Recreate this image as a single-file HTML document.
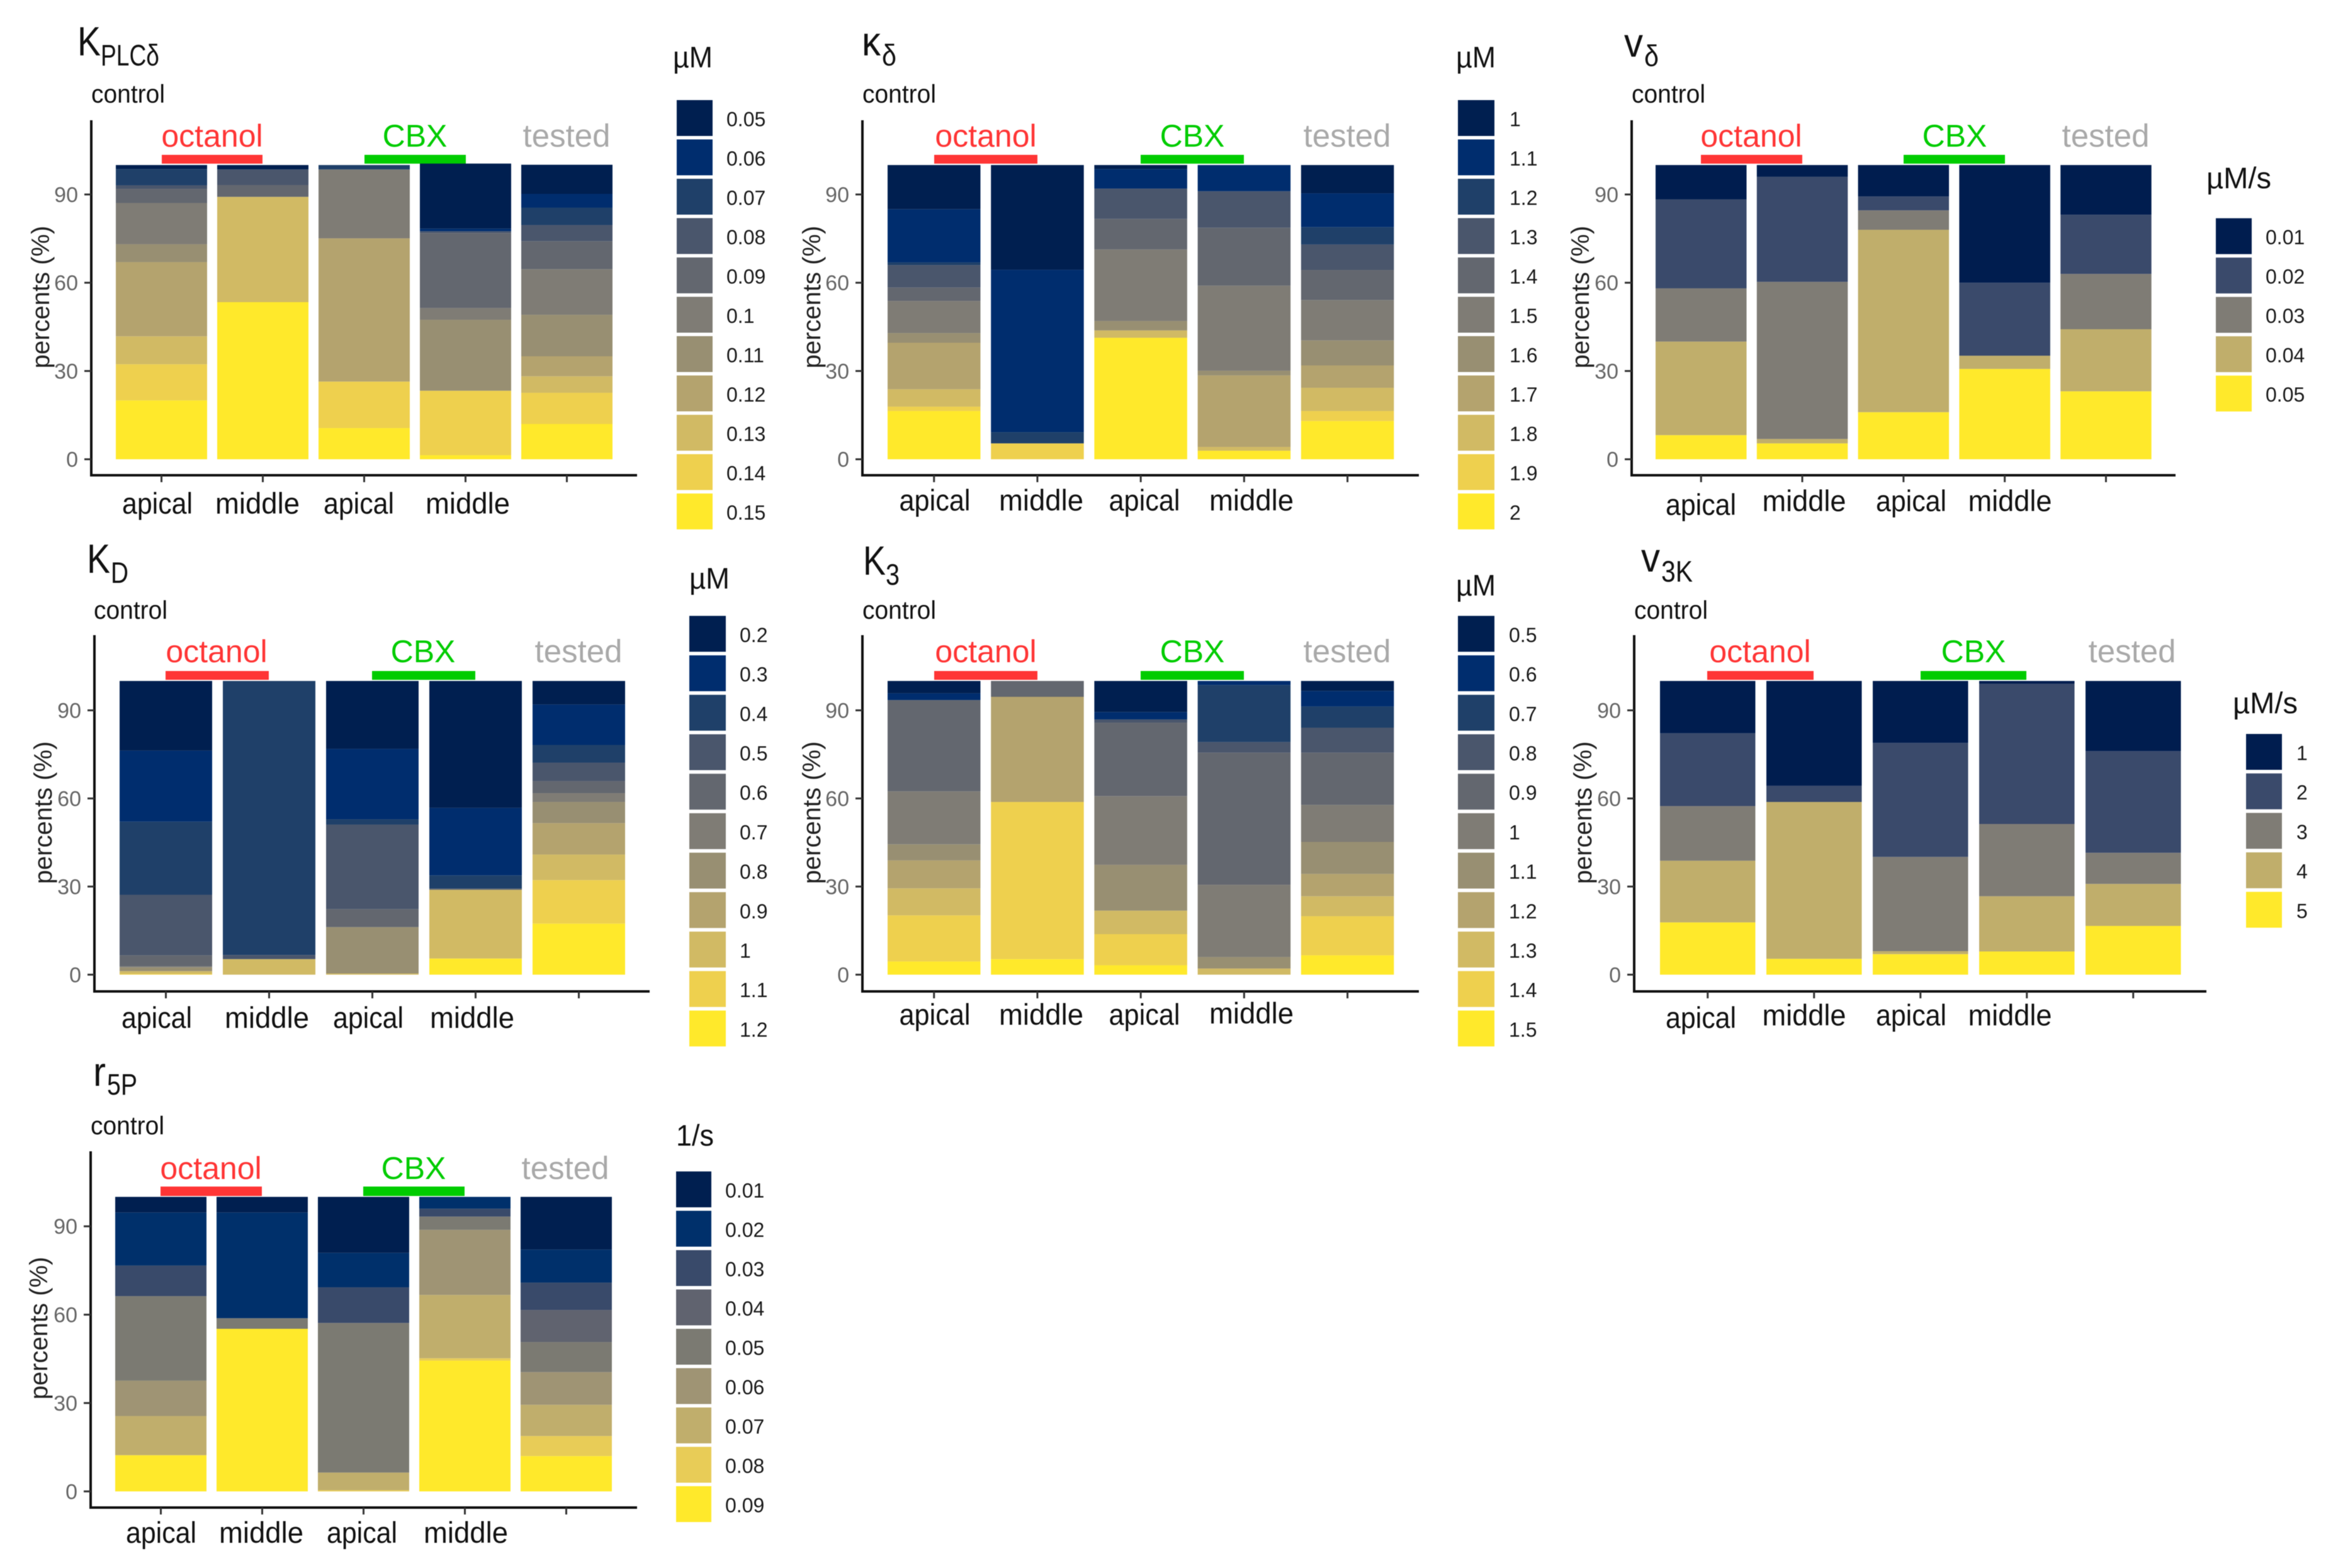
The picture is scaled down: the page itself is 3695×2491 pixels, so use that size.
<!DOCTYPE html>
<html lang="en">
<head>
<meta charset="utf-8">
<title>Parameter distributions by condition</title>
<style>
html,body{margin:0;padding:0;background:#fff;width:3695px;height:2491px;overflow:hidden}
svg{display:block;filter:blur(0.6px)}
text{font-family:"Liberation Sans",sans-serif;fill:#111}
.main{font-size:65px}
.sub{font-size:47px}
.control{font-size:41px}
.oct{font-size:50px;fill:#ff3535;text-anchor:middle}
.cbx{font-size:50px;fill:#00cc00;text-anchor:middle}
.tst{font-size:51px;fill:#a9a9a9;text-anchor:middle}
.ytitle{font-size:40px;text-anchor:middle;fill:#222}
.xl{font-size:47px;text-anchor:middle}
.unit{font-size:47px}
.tick{font-size:34px;fill:#666;text-anchor:end}
.leg{font-size:32px;fill:#1a1a1a}
</style>
</head>
<body>
<svg id="figure" xmlns="http://www.w3.org/2000/svg" width="3695" height="2491" viewBox="0 0 3695 2491">

<g id="kplc">
  <text class="main" x="123" y="88" textLength="37" lengthAdjust="spacingAndGlyphs">K</text>
  <text class="sub" x="160" y="104" textLength="93" lengthAdjust="spacingAndGlyphs">PLCδ</text>
  <text class="control" x="145" y="163" textLength="117" lengthAdjust="spacingAndGlyphs">control</text>
  <text class="oct" x="337" y="233">octanol</text>
  <rect x="257" y="246" width="160" height="14" fill="#ff3535"/>
  <text class="cbx" x="659" y="233">CBX</text>
  <rect x="579" y="246" width="161" height="14" fill="#00cc00"/>
  <text class="tst" x="900" y="233">tested</text>
  <text class="ytitle" x="65" y="472" dy="13" transform="rotate(-90 65 472)">percents (%)</text>
  <text class="xl" x="250" y="816" textLength="112" lengthAdjust="spacingAndGlyphs">apical</text>
  <text class="xl" x="409" y="816" textLength="134" lengthAdjust="spacingAndGlyphs">middle</text>
  <text class="xl" x="570" y="816" textLength="112" lengthAdjust="spacingAndGlyphs">apical</text>
  <text class="xl" x="743" y="816" textLength="134" lengthAdjust="spacingAndGlyphs">middle</text>
  <text class="unit" x="1069" y="107" textLength="63" lengthAdjust="spacingAndGlyphs">µM</text>
</g>

<g id="kdelta">
  <text class="main" x="1369" y="88" textLength="30" lengthAdjust="spacingAndGlyphs">κ</text>
  <text class="sub" x="1401" y="104" textLength="23" lengthAdjust="spacingAndGlyphs">δ</text>
  <text class="control" x="1370" y="163" textLength="117" lengthAdjust="spacingAndGlyphs">control</text>
  <text class="oct" x="1566" y="233">octanol</text>
  <rect x="1484" y="246" width="164" height="14" fill="#ff3535"/>
  <text class="cbx" x="1894" y="233">CBX</text>
  <rect x="1812" y="246" width="164" height="14" fill="#00cc00"/>
  <text class="tst" x="2140" y="233">tested</text>
  <text class="ytitle" x="1290" y="472" dy="13" transform="rotate(-90 1290 472)">percents (%)</text>
  <text class="xl" x="1485" y="811" textLength="113" lengthAdjust="spacingAndGlyphs">apical</text>
  <text class="xl" x="1654" y="811" textLength="134" lengthAdjust="spacingAndGlyphs">middle</text>
  <text class="xl" x="1818" y="811" textLength="113" lengthAdjust="spacingAndGlyphs">apical</text>
  <text class="xl" x="1988" y="811" textLength="134" lengthAdjust="spacingAndGlyphs">middle</text>
  <text class="unit" x="2313" y="107" textLength="63" lengthAdjust="spacingAndGlyphs">µM</text>
</g>

<g id="vdelta">
  <text class="main" x="2580" y="90" textLength="30" lengthAdjust="spacingAndGlyphs">v</text>
  <text class="sub" x="2612" y="105" textLength="23" lengthAdjust="spacingAndGlyphs">δ</text>
  <text class="control" x="2592" y="163" textLength="117" lengthAdjust="spacingAndGlyphs">control</text>
  <text class="oct" x="2782" y="233">octanol</text>
  <rect x="2702" y="246" width="161" height="14" fill="#ff3535"/>
  <text class="cbx" x="3105" y="233">CBX</text>
  <rect x="3024" y="246" width="161" height="14" fill="#00cc00"/>
  <text class="tst" x="3345" y="233">tested</text>
  <text class="ytitle" x="2511" y="472" dy="13" transform="rotate(-90 2511 472)">percents (%)</text>
  <text class="xl" x="2702" y="818" textLength="112" lengthAdjust="spacingAndGlyphs">apical</text>
  <text class="xl" x="2866" y="812" textLength="133" lengthAdjust="spacingAndGlyphs">middle</text>
  <text class="xl" x="3036" y="812" textLength="112" lengthAdjust="spacingAndGlyphs">apical</text>
  <text class="xl" x="3193" y="812" textLength="133" lengthAdjust="spacingAndGlyphs">middle</text>
  <text class="unit" x="3505" y="299" textLength="103" lengthAdjust="spacingAndGlyphs">µM/s</text>
</g>

<g id="kd">
  <text class="main" x="138" y="910" textLength="37" lengthAdjust="spacingAndGlyphs">K</text>
  <text class="sub" x="176" y="926" textLength="28" lengthAdjust="spacingAndGlyphs">D</text>
  <text class="control" x="149" y="983" textLength="117" lengthAdjust="spacingAndGlyphs">control</text>
  <text class="oct" x="344" y="1052">octanol</text>
  <rect x="263" y="1066" width="164" height="14" fill="#ff3535"/>
  <text class="cbx" x="672" y="1052">CBX</text>
  <rect x="591" y="1066" width="164" height="14" fill="#00cc00"/>
  <text class="tst" x="919" y="1052">tested</text>
  <text class="ytitle" x="69" y="1291" dy="13" transform="rotate(-90 69 1291)">percents (%)</text>
  <text class="xl" x="249" y="1633" textLength="112" lengthAdjust="spacingAndGlyphs">apical</text>
  <text class="xl" x="424" y="1633" textLength="134" lengthAdjust="spacingAndGlyphs">middle</text>
  <text class="xl" x="585" y="1633" textLength="112" lengthAdjust="spacingAndGlyphs">apical</text>
  <text class="xl" x="750" y="1633" textLength="134" lengthAdjust="spacingAndGlyphs">middle</text>
  <text class="unit" x="1095" y="935" textLength="64" lengthAdjust="spacingAndGlyphs">µM</text>
</g>

<g id="k3">
  <text class="main" x="1371" y="913" textLength="36" lengthAdjust="spacingAndGlyphs">K</text>
  <text class="sub" x="1407" y="929" textLength="22" lengthAdjust="spacingAndGlyphs">3</text>
  <text class="control" x="1370" y="983" textLength="117" lengthAdjust="spacingAndGlyphs">control</text>
  <text class="oct" x="1566" y="1052">octanol</text>
  <rect x="1484" y="1066" width="164" height="14" fill="#ff3535"/>
  <text class="cbx" x="1894" y="1052">CBX</text>
  <rect x="1812" y="1066" width="164" height="14" fill="#00cc00"/>
  <text class="tst" x="2140" y="1052">tested</text>
  <text class="ytitle" x="1290" y="1291" dy="13" transform="rotate(-90 1290 1291)">percents (%)</text>
  <text class="xl" x="1485" y="1628" textLength="113" lengthAdjust="spacingAndGlyphs">apical</text>
  <text class="xl" x="1654" y="1628" textLength="134" lengthAdjust="spacingAndGlyphs">middle</text>
  <text class="xl" x="1818" y="1628" textLength="113" lengthAdjust="spacingAndGlyphs">apical</text>
  <text class="xl" x="1988" y="1626" textLength="134" lengthAdjust="spacingAndGlyphs">middle</text>
  <text class="unit" x="2313" y="946" textLength="63" lengthAdjust="spacingAndGlyphs">µM</text>
</g>

<g id="v3k">
  <text class="main" x="2607" y="908" textLength="30" lengthAdjust="spacingAndGlyphs">v</text>
  <text class="sub" x="2639" y="924" textLength="50" lengthAdjust="spacingAndGlyphs">3K</text>
  <text class="control" x="2596" y="983" textLength="117" lengthAdjust="spacingAndGlyphs">control</text>
  <text class="oct" x="2796" y="1052">octanol</text>
  <rect x="2712" y="1066" width="169" height="14" fill="#ff3535"/>
  <text class="cbx" x="3135" y="1052">CBX</text>
  <rect x="3051" y="1066" width="168" height="14" fill="#00cc00"/>
  <text class="tst" x="3387" y="1052">tested</text>
  <text class="ytitle" x="2515" y="1291" dy="13" transform="rotate(-90 2515 1291)">percents (%)</text>
  <text class="xl" x="2702" y="1633" textLength="112" lengthAdjust="spacingAndGlyphs">apical</text>
  <text class="xl" x="2866" y="1629" textLength="133" lengthAdjust="spacingAndGlyphs">middle</text>
  <text class="xl" x="3036" y="1629" textLength="112" lengthAdjust="spacingAndGlyphs">apical</text>
  <text class="xl" x="3193" y="1629" textLength="133" lengthAdjust="spacingAndGlyphs">middle</text>
  <text class="unit" x="3547" y="1133" textLength="103" lengthAdjust="spacingAndGlyphs">µM/s</text>
</g>

<g id="r5p">
  <text class="main" x="148" y="1725" textLength="20" lengthAdjust="spacingAndGlyphs">r</text>
  <text class="sub" x="170" y="1739" textLength="48" lengthAdjust="spacingAndGlyphs">5P</text>
  <text class="control" x="144" y="1802" textLength="117" lengthAdjust="spacingAndGlyphs">control</text>
  <text class="oct" x="335" y="1873">octanol</text>
  <rect x="255" y="1885" width="161" height="15" fill="#ff3535"/>
  <text class="cbx" x="657" y="1873">CBX</text>
  <rect x="577" y="1885" width="161" height="15" fill="#00cc00"/>
  <text class="tst" x="898" y="1873">tested</text>
  <text class="ytitle" x="62" y="2110" dy="13" transform="rotate(-90 62 2110)">percents (%)</text>
  <text class="xl" x="256" y="2451" textLength="112" lengthAdjust="spacingAndGlyphs">apical</text>
  <text class="xl" x="415" y="2451" textLength="134" lengthAdjust="spacingAndGlyphs">middle</text>
  <text class="xl" x="575" y="2451" textLength="112" lengthAdjust="spacingAndGlyphs">apical</text>
  <text class="xl" x="740" y="2451" textLength="134" lengthAdjust="spacingAndGlyphs">middle</text>
  <text class="unit" x="1074" y="1820" textLength="60" lengthAdjust="spacingAndGlyphs">1/s</text>
</g>
</svg>

<script>
// ---------- shared axis values ----------
const yTickValues = [0, 30, 60, 90];
const barGroups = ['octanol-apical', 'octanol-middle', 'cbx-apical', 'cbx-middle', 'tested'];

// ---------- legend labels (top to bottom) ----------
const kplcLevels = ['0.05','0.06','0.07','0.08','0.09','0.1','0.11','0.12','0.13','0.14','0.15'];
const kdeltaLevels = ['1','1.1','1.2','1.3','1.4','1.5','1.6','1.7','1.8','1.9','2'];
const vdeltaLevels = ['0.01','0.02','0.03','0.04','0.05'];
const kdLevels = ['0.2','0.3','0.4','0.5','0.6','0.7','0.8','0.9','1','1.1','1.2'];
const k3Levels = ['0.5','0.6','0.7','0.8','0.9','1','1.1','1.2','1.3','1.4','1.5'];
const v3kLevels = ['1','2','3','4','5'];
const r5pLevels = ['0.01','0.02','0.03','0.04','0.05','0.06','0.07','0.08','0.09'];

// ---------- percent of each legend level per bar ----------
const kplcValues = [
  [1.4,0,5.5,1.2,4.8,14,6.1,25.2,9.5,12.3,20],
  [1.5,0,0,5.3,4,0,0,0,35.8,0,53.4],
  [0,0,1.5,0,0,23.4,0,48.7,0,15.8,10.6],
  [22.1,.9,0,.6,25.5,4,24.1,0,0,21.9,1.4],
  [9.9,4.7,5.9,5.5,9.5,15.5,14.1,6.8,5.6,10.6,12]
];
const kdeltaValues = [
  [15,18.1,.9,7.6,4.6,10.9,3.3,15.8,5.9,1.5,16.4],
  [35.6,55.2,3.8,0,0,0,0,0,0,5.4,0],
  [1.4,6.6,0,10.3,10.4,24.3,3.2,0,2.5,0,41.3],
  [0,8.9,0,12.4,19.7,28.9,1.6,24.3,1.3,0,2.9],
  [9.6,11.5,5.9,8.7,10.2,13.7,8.5,7.6,7.9,3.4,13]
];
const vdeltaValues = [
  [11.7,30.2,18.1,31.8,8.2],
  [4,35.7,53.4,1.5,5.4],
  [10.7,4.7,6.6,62,16],
  [40,24.8,0,4.5,30.7],
  [16.9,20.1,18.8,21.1,23.1]
];
const kdValues = [
  [23.7,24.2,24.9,20.6,3.8,.3,1.3,0,.9,.3,0],
  [0,0,93.3,1.4,0,0,0,0,5.3,0,0],
  [23.1,24,1.8,28.8,6.1,0,15.8,0,.4,0,0],
  [43.2,23,4.5,0,.4,0,0,0,23.4,0,5.5],
  [8,13.8,6,6.3,4.1,3,7.2,10.7,8.7,14.8,17.4]
];
const k3Values = [
  [4.2,2.3,0,0,31.1,18,5.5,9.5,9.2,15.7,4.5],
  [0,0,0,0,5.4,0,0,35.8,0,53.5,5.3],
  [10.6,2.5,0,1.1,25,23.4,15.6,0,8,10.6,3.2],
  [0,1.4,19.4,3.6,45,24.6,3.9,0,2.1,0,0],
  [3.4,5.3,7.2,8.5,17.8,12.6,10.9,7.6,6.8,13.3,6.6]
];
const v3kValues = [
  [17.8,24.8,18.6,21,17.8],
  [35.7,5.5,0,53.4,5.4],
  [21.1,38.8,32.1,1,7],
  [.9,47.8,24.6,18.8,7.9],
  [23.9,34.6,10.6,14.3,16.6]
];
const r5pValues = [
  [5.3,18,10.4,0,28.7,12,13.3,0,12.3],
  [5.3,35.9,0,0,3.6,0,0,0,55.2],
  [19,11.7,12.1,0,50.8,0,6,.4,0],
  [0,4,2.7,0,4.5,22.1,21.5,.8,44.4],
  [17.9,11.2,9.3,10.9,10.2,11.1,10.6,6.8,12]
];

// ---------- colour ramps ----------
const ramp11 = ['#001f50','#002d6e','#1f4069','#4a566c','#63676f','#7f7c75','#988f72','#b4a36e','#d1ba64','#eed04e','#ffe92b'];
const ramp9 = ['#001f50','#00306b','#394a6a','#60636f','#7b7a72','#9f9474','#c0ae6c','#e8cc57','#ffe92b'];
const ramp5 = ['#001d4f','#3a4a6b','#7f7c75','#c0ae6b','#ffe92b'];

const SVG_NS = 'http://www.w3.org/2000/svg';

function make(parent, tag, attrs, text) {
  const el = document.createElementNS(SVG_NS, tag);
  for (const k in attrs) el.setAttribute(k, attrs[k]);
  if (text !== undefined) el.textContent = text;
  parent.appendChild(el);
  return el;
}

function drawPanel(p) {
  const root = document.getElementById(p.id);
  const yScale = v => p.y0 - v * (p.y0 - p.y100) / 100;
  const xLeft = i => p.barX + i * p.barStep;
  const xCenter = i => xLeft(i) + p.barW / 2;

  // stacked bars: last legend level sits at the bottom
  p.values.forEach((row, i) => {
    const barGroup = make(root, 'g', {});
    
    
    let running = 0;
    for (let l = row.length - 1; l >= 0; l--) {
      const v = row[l];
      if (v <= 0) continue;
      const top = yScale(running + v);
      const bottom = yScale(running);
      const seg = make(barGroup, 'rect', {x: xLeft(i), y: top, width: p.barW, height: bottom - top, fill: p.colors[l]});
      
      
      running += v;
    }
  });

  // y axis
  const yAxis = make(root, 'line', {x1: p.axisX, x2: p.axisX, y1: p.axisTop, y2: p.axisBottom + 2, stroke: '#111', 'stroke-width': 4});
  
  
  yTickValues.forEach(v => {
    const tick = make(root, 'line', {x1: p.axisX - 11, x2: p.axisX, y1: yScale(v), y2: yScale(v), stroke: '#333', 'stroke-width': 3});
    
    
    const lab = make(root, 'text', {class: 'tick', x: p.axisX - 21, y: yScale(v) + 12}, String(v));
    
    
  });

  // x axis
  const xAxis = make(root, 'line', {x1: p.axisX - 2, x2: p.axisEnd, y1: p.axisBottom, y2: p.axisBottom, stroke: '#111', 'stroke-width': 4});
  
  
  barGroups.forEach((g, i) => {
    const tick = make(root, 'line', {x1: xCenter(i), x2: xCenter(i), y1: p.axisBottom, y2: p.axisBottom + 11, stroke: '#333', 'stroke-width': 3});
    
    
  });

  // legend
  p.levels.forEach((label, i) => {
    const top = p.legTop + i * p.legStep;
    const sw = make(root, 'rect', {x: p.legX, y: top, width: p.legW, height: 57, fill: p.colors[i]});
    
    
    const t = make(root, 'text', {class: 'leg', x: p.legTextX, y: top + 28.5 + 13}, label);
    
    
  });
}

drawPanel({id:'kplc',  values:kplcValues,  levels:kplcLevels,  colors:ramp11, barX:184,  barStep:161,   barW:145,   y100:262.2,  y0:729.6,  axisX:145,  axisEnd:1012, axisTop:191,  axisBottom:755,  legX:1075, legW:57, legTop:159,  legStep:62.5, legTextX:1154});
drawPanel({id:'kdelta',values:kdeltaValues,levels:kdeltaLevels,colors:ramp11, barX:1410, barStep:164.2, barW:147.5, y100:262.2,  y0:729.6,  axisX:1370, axisEnd:2254, axisTop:191,  axisBottom:755,  legX:2316, legW:58, legTop:159,  legStep:62.5, legTextX:2398});
drawPanel({id:'vdelta',values:vdeltaValues,levels:vdeltaLevels,colors:ramp5,  barX:2630, barStep:160.8, barW:144.5, y100:262.2,  y0:729.6,  axisX:2592, axisEnd:3456, axisTop:191,  axisBottom:755,  legX:3520, legW:57, legTop:346.7,legStep:62.5, legTextX:3599});
drawPanel({id:'kd',    values:kdValues,    levels:kdLevels,    colors:ramp11, barX:190,  barStep:164,   barW:147,   y100:1081.8, y0:1548.4, axisX:150,  axisEnd:1032, axisTop:1009, axisBottom:1575, legX:1095, legW:58, legTop:978.4,legStep:62.7, legTextX:1175});
drawPanel({id:'k3',    values:k3Values,    levels:k3Levels,    colors:ramp11, barX:1410, barStep:164.2, barW:147.5, y100:1081.8, y0:1548.4, axisX:1370, axisEnd:2254, axisTop:1009, axisBottom:1575, legX:2316, legW:58, legTop:978.4,legStep:62.7, legTextX:2397});
drawPanel({id:'v3k',   values:v3kValues,   levels:v3kLevels,   colors:ramp5,  barX:2637, barStep:169,   barW:151.5, y100:1081.8, y0:1548.4, axisX:2596, axisEnd:3505, axisTop:1009, axisBottom:1575, legX:3568, legW:57, legTop:1166, legStep:62.7, legTextX:3648});
drawPanel({id:'r5p',   values:r5pValues,   levels:r5pLevels,   colors:ramp9,  barX:183,  barStep:161,   barW:145,   y100:1901.4, y0:2369.3, axisX:144,  axisEnd:1012, axisTop:1829, axisBottom:2395, legX:1074, legW:56, legTop:1861, legStep:62.5, legTextX:1152});
</script>
</body>
</html>
